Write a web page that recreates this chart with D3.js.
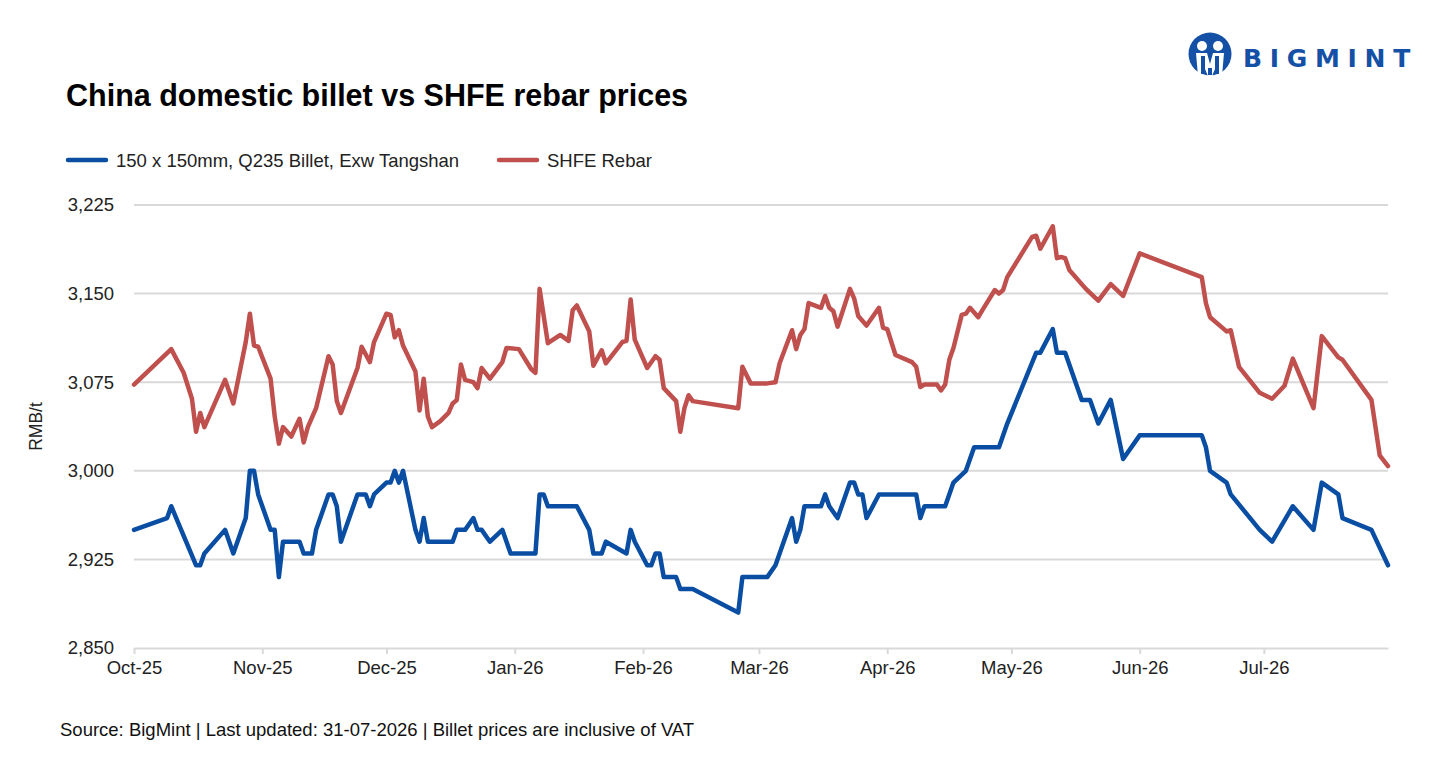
<!DOCTYPE html>
<html>
<head>
<meta charset="utf-8">
<script src="https://cdn.jsdelivr.net/npm/d3@7"></script>
<style>
  body { margin: 0; background: #fff; }
  svg { display: block; font-family: "Liberation Sans", Arial, sans-serif; }
</style>
</head>
<body>
<svg id="chart" width="1431" height="765"></svg>
<script>
// billet, 150 x 150mm Q235, exw Tangshan (RMB/t)
var billet = [
  ["2025-10-01", 2950], ["2025-10-09", 2960], ["2025-10-10", 2970], ["2025-10-16", 2920],
  ["2025-10-17", 2920], ["2025-10-18", 2930], ["2025-10-23", 2950], ["2025-10-25", 2930],
  ["2025-10-28", 2960], ["2025-10-29", 3000], ["2025-10-30", 3000], ["2025-10-31", 2980],
  ["2025-11-03", 2950], ["2025-11-04", 2950], ["2025-11-05", 2910], ["2025-11-06", 2940],
  ["2025-11-10", 2940], ["2025-11-11", 2930], ["2025-11-13", 2930], ["2025-11-14", 2950],
  ["2025-11-17", 2980], ["2025-11-18", 2980], ["2025-11-19", 2970], ["2025-11-20", 2940],
  ["2025-11-24", 2980], ["2025-11-26", 2980], ["2025-11-27", 2970], ["2025-11-28", 2980],
  ["2025-12-01", 2990], ["2025-12-02", 2990], ["2025-12-03", 3000], ["2025-12-04", 2990],
  ["2025-12-05", 3000], ["2025-12-08", 2950], ["2025-12-09", 2940], ["2025-12-10", 2960],
  ["2025-12-11", 2940], ["2025-12-17", 2940], ["2025-12-18", 2950], ["2025-12-20", 2950],
  ["2025-12-22", 2960], ["2025-12-23", 2950], ["2025-12-24", 2950], ["2025-12-26", 2940],
  ["2025-12-29", 2950], ["2025-12-31", 2930], ["2026-01-06", 2930], ["2026-01-07", 2980],
  ["2026-01-08", 2980], ["2026-01-09", 2970], ["2026-01-16", 2970], ["2026-01-19", 2950],
  ["2026-01-20", 2930], ["2026-01-22", 2930], ["2026-01-23", 2940], ["2026-01-28", 2930],
  ["2026-01-29", 2950], ["2026-01-30", 2940], ["2026-02-02", 2920], ["2026-02-03", 2920],
  ["2026-02-04", 2930], ["2026-02-05", 2930], ["2026-02-06", 2910], ["2026-02-09", 2910],
  ["2026-02-10", 2900], ["2026-02-13", 2900], ["2026-02-24", 2880], ["2026-02-25", 2910],
  ["2026-03-03", 2910], ["2026-03-05", 2920], ["2026-03-09", 2960], ["2026-03-10", 2940],
  ["2026-03-11", 2950], ["2026-03-12", 2970], ["2026-03-16", 2970], ["2026-03-17", 2980],
  ["2026-03-18", 2970], ["2026-03-20", 2960], ["2026-03-23", 2990], ["2026-03-24", 2990],
  ["2026-03-25", 2980], ["2026-03-26", 2980], ["2026-03-27", 2960], ["2026-03-30", 2980],
  ["2026-04-08", 2980], ["2026-04-09", 2960], ["2026-04-10", 2970], ["2026-04-15", 2970],
  ["2026-04-17", 2990], ["2026-04-20", 3000], ["2026-04-22", 3020], ["2026-04-28", 3020],
  ["2026-04-30", 3040], ["2026-05-07", 3100], ["2026-05-08", 3100], ["2026-05-11", 3120],
  ["2026-05-12", 3100], ["2026-05-14", 3100], ["2026-05-18", 3060], ["2026-05-20", 3060],
  ["2026-05-22", 3040], ["2026-05-25", 3060], ["2026-05-28", 3010], ["2026-06-01", 3030],
  ["2026-06-16", 3030], ["2026-06-17", 3020], ["2026-06-18", 3000], ["2026-06-22", 2990],
  ["2026-06-23", 2980], ["2026-06-30", 2950], ["2026-07-03", 2940], ["2026-07-08", 2970],
  ["2026-07-13", 2950], ["2026-07-15", 2990], ["2026-07-19", 2980], ["2026-07-20", 2960],
  ["2026-07-27", 2950], ["2026-07-31", 2920]
];

// SHFE rebar (RMB/t)
var rebar = [
  ["2025-10-01", 3073], ["2025-10-10", 3103], ["2025-10-13", 3083], ["2025-10-15", 3061],
  ["2025-10-16", 3033], ["2025-10-17", 3049], ["2025-10-18", 3037], ["2025-10-23", 3077],
  ["2025-10-25", 3057], ["2025-10-28", 3109], ["2025-10-29", 3133], ["2025-10-30", 3106],
  ["2025-10-31", 3105], ["2025-11-03", 3078], ["2025-11-04", 3046], ["2025-11-05", 3023],
  ["2025-11-06", 3037], ["2025-11-08", 3029], ["2025-11-10", 3044], ["2025-11-11", 3024],
  ["2025-11-12", 3037], ["2025-11-14", 3053], ["2025-11-17", 3097], ["2025-11-18", 3090],
  ["2025-11-19", 3059], ["2025-11-20", 3049], ["2025-11-24", 3087], ["2025-11-25", 3105],
  ["2025-11-27", 3092], ["2025-11-28", 3109], ["2025-12-01", 3133], ["2025-12-02", 3132],
  ["2025-12-03", 3113], ["2025-12-04", 3119], ["2025-12-05", 3106], ["2025-12-08", 3084],
  ["2025-12-09", 3051], ["2025-12-10", 3078], ["2025-12-11", 3046], ["2025-12-12", 3037],
  ["2025-12-14", 3042], ["2025-12-16", 3049], ["2025-12-17", 3057], ["2025-12-18", 3060],
  ["2025-12-19", 3090], ["2025-12-20", 3077], ["2025-12-22", 3075], ["2025-12-23", 3070],
  ["2025-12-24", 3087], ["2025-12-26", 3078], ["2025-12-29", 3092], ["2025-12-30", 3104],
  ["2026-01-02", 3103], ["2026-01-05", 3086], ["2026-01-06", 3083], ["2026-01-07", 3154],
  ["2026-01-09", 3108], ["2026-01-12", 3115], ["2026-01-14", 3110], ["2026-01-15", 3136],
  ["2026-01-16", 3140], ["2026-01-19", 3118], ["2026-01-20", 3089], ["2026-01-22", 3102],
  ["2026-01-23", 3091], ["2026-01-27", 3109], ["2026-01-28", 3110], ["2026-01-29", 3145],
  ["2026-01-30", 3111], ["2026-02-02", 3087], ["2026-02-04", 3097], ["2026-02-05", 3094],
  ["2026-02-06", 3070], ["2026-02-09", 3059], ["2026-02-10", 3033], ["2026-02-11", 3053],
  ["2026-02-12", 3064], ["2026-02-13", 3059], ["2026-02-24", 3053], ["2026-02-25", 3088],
  ["2026-02-27", 3074], ["2026-03-03", 3074], ["2026-03-05", 3075], ["2026-03-06", 3091],
  ["2026-03-09", 3119], ["2026-03-10", 3103], ["2026-03-11", 3115], ["2026-03-12", 3120],
  ["2026-03-13", 3142], ["2026-03-16", 3138], ["2026-03-17", 3148], ["2026-03-18", 3138],
  ["2026-03-19", 3135], ["2026-03-20", 3122], ["2026-03-23", 3154], ["2026-03-24", 3146],
  ["2026-03-25", 3131], ["2026-03-27", 3123], ["2026-03-30", 3138], ["2026-03-31", 3121],
  ["2026-04-01", 3120], ["2026-04-03", 3098], ["2026-04-07", 3092], ["2026-04-08", 3088],
  ["2026-04-09", 3071], ["2026-04-10", 3073], ["2026-04-13", 3073], ["2026-04-14", 3068],
  ["2026-04-15", 3073], ["2026-04-16", 3094], ["2026-04-17", 3104], ["2026-04-19", 3132],
  ["2026-04-20", 3133], ["2026-04-21", 3138], ["2026-04-23", 3130], ["2026-04-24", 3136],
  ["2026-04-27", 3153], ["2026-04-28", 3150], ["2026-04-29", 3153], ["2026-04-30", 3164],
  ["2026-05-06", 3198], ["2026-05-07", 3199], ["2026-05-08", 3188], ["2026-05-11", 3207],
  ["2026-05-12", 3180], ["2026-05-13", 3181], ["2026-05-14", 3180], ["2026-05-15", 3170],
  ["2026-05-19", 3154], ["2026-05-22", 3144], ["2026-05-25", 3158], ["2026-05-28", 3148],
  ["2026-06-01", 3184], ["2026-06-16", 3164], ["2026-06-17", 3142], ["2026-06-18", 3130],
  ["2026-06-22", 3118], ["2026-06-23", 3119], ["2026-06-25", 3088], ["2026-06-30", 3066],
  ["2026-07-03", 3061], ["2026-07-06", 3072], ["2026-07-08", 3095], ["2026-07-13", 3053],
  ["2026-07-15", 3114], ["2026-07-19", 3096], ["2026-07-20", 3094], ["2026-07-27", 3060],
  ["2026-07-29", 3013], ["2026-07-31", 3004]
];

var yTicks = [2850, 2925, 3000, 3075, 3150, 3225];
var dateRange = ["2025-10-01", "2026-07-31"];
var seriesNames = ["150 x 150mm, Q235 Billet, Exw Tangshan", "SHFE Rebar"];
var colors = ["#0a4ea3", "#c0504d"];

var parse = d3.timeParse("%Y-%m-%d");
var svg = d3.select("#chart");

var plotLeft = 134, plotRight = 1388, plotTop = 205, plotBottom = 648;
var fs = 18.5;

var x = d3.scaleTime()
  .domain(dateRange.map(parse))
  .range([plotLeft, plotRight]);
var y = d3.scaleLinear()
  .domain([yTicks[0], yTicks[yTicks.length - 1]])
  .range([plotBottom, plotTop]);

// title
svg.append("text")
  .attr("x", 66).attr("y", 106)
  .attr("font-size", 30.5).attr("font-weight", "bold")
  .attr("fill", "#000")
  .text("China domestic billet vs SHFE rebar prices");

// logo
var logo = svg.append("g").attr("transform", "translate(1210,54)");
logo.append("circle").attr("r", 21.5).attr("fill", "#1450a5");
logo.append("circle").attr("cx", -8).attr("cy", -8).attr("r", 5).attr("fill", "#fff");
logo.append("circle").attr("cx", 8).attr("cy", -8).attr("r", 5).attr("fill", "#fff");
logo.append("path")
  .attr("d", "M-14,-1 L-3,-1 L0,10 L3,-1 L14,-1 L12,22 L8,22 L8,8 L2,22 L-2,22 L-8,8 L-8,22 L-12,22 Z")
  .attr("fill", "#fff");
logo.append("path")
  .attr("d", "M-9,2 L-5,2 L-5,20 L-9,20 Z M5,2 L9,2 L9,20 L5,20 Z M-2,14 L2,14 L2,21 L-2,21 Z")
  .attr("fill", "#1450a5");
svg.append("text")
  .attr("x", 1243).attr("y", 67)
  .attr("font-family", "'DejaVu Sans', sans-serif")
  .attr("font-size", 25).attr("font-weight", "bold")
  .attr("letter-spacing", 7.7)
  .attr("fill", "#1450a5")
  .text("BIGMINT");

// legend
var legend = svg.append("g").attr("font-size", fs).attr("fill", "#222");
var lx = [66, 497];
seriesNames.forEach(function(name, i) {
  legend.append("line")
    .attr("x1", lx[i] + 2).attr("x2", lx[i] + 40)
    .attr("y1", 160).attr("y2", 160)
    .attr("stroke", colors[i]).attr("stroke-width", 4.5)
    .attr("stroke-linecap", "round");
  legend.append("text")
    .attr("x", lx[i] + 50).attr("y", 166.5)
    .text(name);
});

// grid
svg.append("g")
  .selectAll("line")
  .data(yTicks.slice(1))
  .join("line")
  .attr("x1", plotLeft).attr("x2", plotRight)
  .attr("y1", function(d) { return y(d); })
  .attr("y2", function(d) { return y(d); })
  .attr("stroke", "#d9d9d9").attr("stroke-width", 2);

// y axis
var yAxis = svg.append("g")
  .attr("transform", "translate(" + (plotLeft - 20) + ",0)")
  .call(d3.axisLeft(y).tickValues(yTicks).tickFormat(d3.format(",")).tickSize(0).tickPadding(0));
yAxis.select(".domain").remove();
yAxis.selectAll("text")
  .attr("font-size", fs).attr("fill", "#222")
  .attr("font-family", "'Liberation Sans', Arial, sans-serif");

svg.append("text")
  .attr("transform", "translate(42," + ((plotTop + plotBottom) / 2) + ") rotate(-90)")
  .attr("text-anchor", "middle")
  .attr("font-size", fs - 1).attr("fill", "#222")
  .text("RMB/t");

// x axis
var xAxis = svg.append("g")
  .attr("transform", "translate(0," + plotBottom + ")")
  .call(d3.axisBottom(x)
    .ticks(d3.timeMonth.every(1))
    .tickFormat(d3.timeFormat("%b-%y"))
    .tickSizeInner(6).tickSizeOuter(0).tickPadding(7));
xAxis.select(".domain").attr("stroke", "#d9d9d9").attr("stroke-width", 2);
xAxis.selectAll(".tick line").attr("stroke", "#d9d9d9").attr("stroke-width", 2);
xAxis.selectAll("text")
  .attr("font-size", fs).attr("fill", "#222")
  .attr("font-family", "'Liberation Sans', Arial, sans-serif");

// lines
var line = d3.line()
  .x(function(d) { return x(parse(d[0])); })
  .y(function(d) { return y(d[1]); });

[billet, rebar].forEach(function(data, i) {
  svg.append("path")
    .datum(data)
    .attr("d", line)
    .attr("fill", "none")
    .attr("stroke", colors[i])
    .attr("stroke-width", 4.5)
    .attr("stroke-linejoin", "round")
    .attr("stroke-linecap", "round");
});

// footer
svg.append("text")
  .attr("x", 60).attr("y", 736)
  .attr("font-size", fs).attr("fill", "#111")
  .text("Source: BigMint | Last updated: 31-07-2026 | Billet prices are inclusive of VAT");
</script>
</body>
</html>
